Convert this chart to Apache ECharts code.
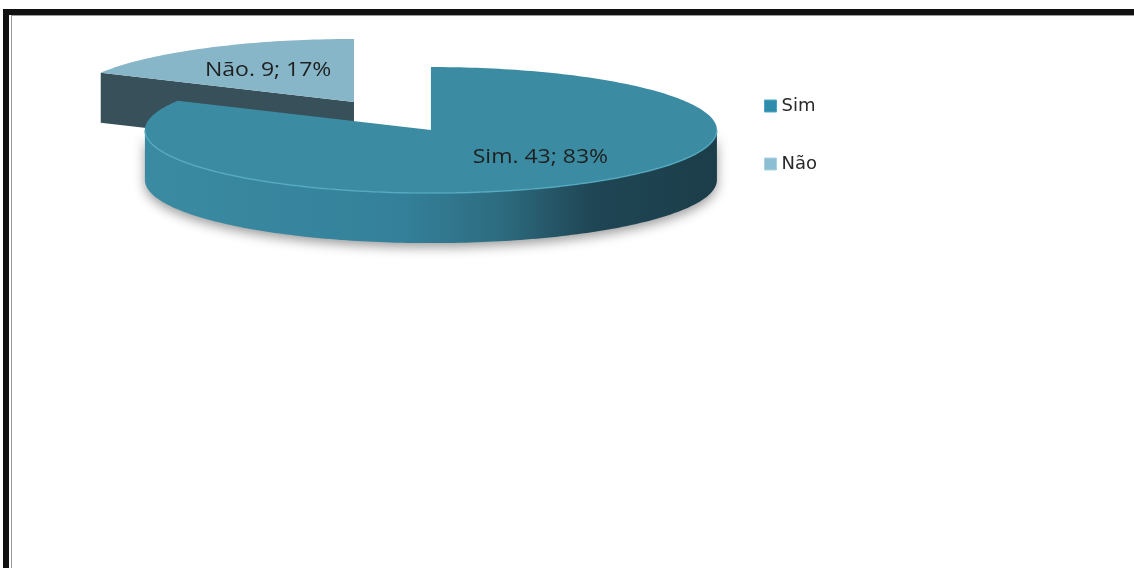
<!DOCTYPE html>
<html>
<head>
<meta charset="utf-8">
<script src="https://cdn.jsdelivr.net/npm/echarts@6/dist/echarts.min.js"></script>
<style>
  html, body { margin: 0; padding: 0; background: #fff; }
  #chart { width: 1134px; height: 568px; }
</style>
</head>
<body>
<div id="chart"></div>
<script>
// Survey answers: category names and counts
const categories = ['Sim', 'Não'];
const counts = [43, 9];
const topColors = ['#3b8ca3', '#86b6c8'];
const explodeBy = [0, 0.52];
// label anchor inside each slice, as [horizontal, vertical] fraction of the radius
const labelAt = [[0.74, 0.5], [0.58, 0.58]];

const total = counts.reduce((a, b) => a + b, 0);
const startAngles = [];
let acc = 0;
counts.forEach((c) => { startAngles.push(acc / total * Math.PI * 2); acc += c; });

// tilted-disc layout (fractions of the chart size)
const PIE = { cx: 0.38, cy: 0.229, rx: 0.2522, ry: 0.111, depth: 0.088 };

function makeRender(idx) {
  return function (params, api) {
    const W = api.getWidth(), H = api.getHeight();
    const rx = PIE.rx * W, ry = PIE.ry * H, h = PIE.depth * H;
    const a0 = startAngles[idx];
    const a1 = a0 + api.value(0) / total * Math.PI * 2;
    const mid = (a0 + a1) / 2;
    const e = explodeBy[idx];
    const cx = PIE.cx * W + rx * Math.sin(mid) * e;
    const cy = PIE.cy * H - ry * Math.cos(mid) * e;
    const pt = (t, dy) => [cx + rx * Math.sin(t), cy - ry * Math.cos(t) + (dy || 0)];
    const arc = (s, t, dy) => {
      const n = Math.max(2, Math.ceil(Math.abs(t - s) / 0.02));
      const out = [];
      for (let i = 0; i <= n; i++) out.push(pt(s + (t - s) * i / n, dy));
      return out;
    };
    const children = [];
    const isFirst = idx === 0;
    const sideFill = isFirst ? {
      type: 'linear', global: true, x: cx - rx, y: 0, x2: cx + rx, y2: 0,
      colorStops: [
        { offset: 0, color: '#3a8ba2' },
        { offset: 0.45, color: '#34809a' },
        { offset: 0.62, color: '#2d6c80' },
        { offset: 0.78, color: '#1f4655' },
        { offset: 1, color: '#1c3d49' }
      ]
    } : '#3a525c';

    // outer rim, only the half turned toward the viewer
    const s = Math.max(a0, Math.PI / 2), t = Math.min(a1, Math.PI * 1.5);
    if (t > s) {
      const topRim = arc(s, t, 0);
      const bottomRim = arc(t, s, h);
      children.push({
        type: 'polygon', z2: 1,
        shape: { points: topRim.concat(bottomRim) },
        style: { fill: sideFill, shadowBlur: 12, shadowColor: 'rgba(0,0,0,0.4)', shadowOffsetY: 4 }
      });
    }
    // radial cut faces that face the viewer
    [[a0, a0 - Math.PI / 2], [a1, a1 + Math.PI / 2]].forEach(([ang, nrm]) => {
      if (Math.cos(nrm) < -0.01) {
        const p = pt(ang, 0), q = pt(ang, h);
        children.push({
          type: 'polygon', z2: 2,
          shape: { points: [[cx, cy], p, q, [cx, cy + h]] },
          style: { fill: isFirst ? '#2a6475' : '#38505a' }
        });
      }
    });
    // top face
    children.push({
      type: 'polygon', z2: 3,
      shape: { points: [[cx, cy]].concat(arc(a0, a1, 0)) },
      style: { fill: topColors[idx] }
    });
    // soft bevel along the front rim
    if (t > s) {
      children.push({
        type: 'polyline', z2: 4,
        shape: { points: arc(s, t, 0) },
        style: { stroke: isFirst ? '#58aec5' : '#a5cbd9', lineWidth: 1.5, fill: null, opacity: 0.8 }
      });
    }
    // data label
    const pct = Math.round(api.value(0) / total * 100);
    const [fx, fy] = labelAt[idx];
    children.push({
      type: 'text', z2: 10,
      x: cx + rx * Math.sin(mid) * fx,
      y: cy - ry * Math.cos(mid) * fy,
      scaleX: 1.15,
      style: {
        text: categories[idx] + '. ' + api.value(0) + '; ' + pct + '%',
        x: 0, y: 0,
        fill: '#1f1f1f', fontSize: 20, fontFamily: 'Open Sans',
        align: 'center', verticalAlign: 'middle'
      }
    });
    return { type: 'group', children };
  };
}

const chart = echarts.init(document.getElementById('chart'), null, { renderer: 'canvas' });
chart.setOption({
  animation: false,
  backgroundColor: '#fff',
  legend: {
    orient: 'vertical', left: 759, top: 92,
    itemWidth: 12, itemHeight: 12, itemGap: 40, icon: 'rect',
    textStyle: { fontSize: 18, color: '#2a2a2a', fontFamily: 'DejaVu Sans', lineHeight: 18 },
    data: [
      { name: categories[0], itemStyle: { color: '#2f8cab', borderColor: '#4aa6c4', borderWidth: 1 } },
      { name: categories[1], itemStyle: { color: '#8cbfd4', borderColor: '#a9d2e2', borderWidth: 1 } }
    ]
  },
  graphic: [
    { type: 'rect', shape: { x: 3, y: 9, width: 1140, height: 6 }, style: { fill: '#111' }, silent: true },
    { type: 'rect', shape: { x: 3, y: 9, width: 6, height: 580 }, style: { fill: '#111' }, silent: true },
    { type: 'line', shape: { x1: 11, y1: 15.5, x2: 1140, y2: 15.5 }, style: { stroke: '#9a9a9a', lineWidth: 1 }, silent: true },
    { type: 'line', shape: { x1: 11.5, y1: 15, x2: 11.5, y2: 580 }, style: { stroke: '#9a9a9a', lineWidth: 1 }, silent: true }
  ],
  series: categories.map((name, i) => ({
    type: 'custom',
    name,
    coordinateSystem: 'none',
    z: i === 0 ? 3 : 2,
    itemStyle: { color: topColors[i] },
    renderItem: makeRender(i),
    data: [counts[i]]
  }))
});
</script>
</body>
</html>
